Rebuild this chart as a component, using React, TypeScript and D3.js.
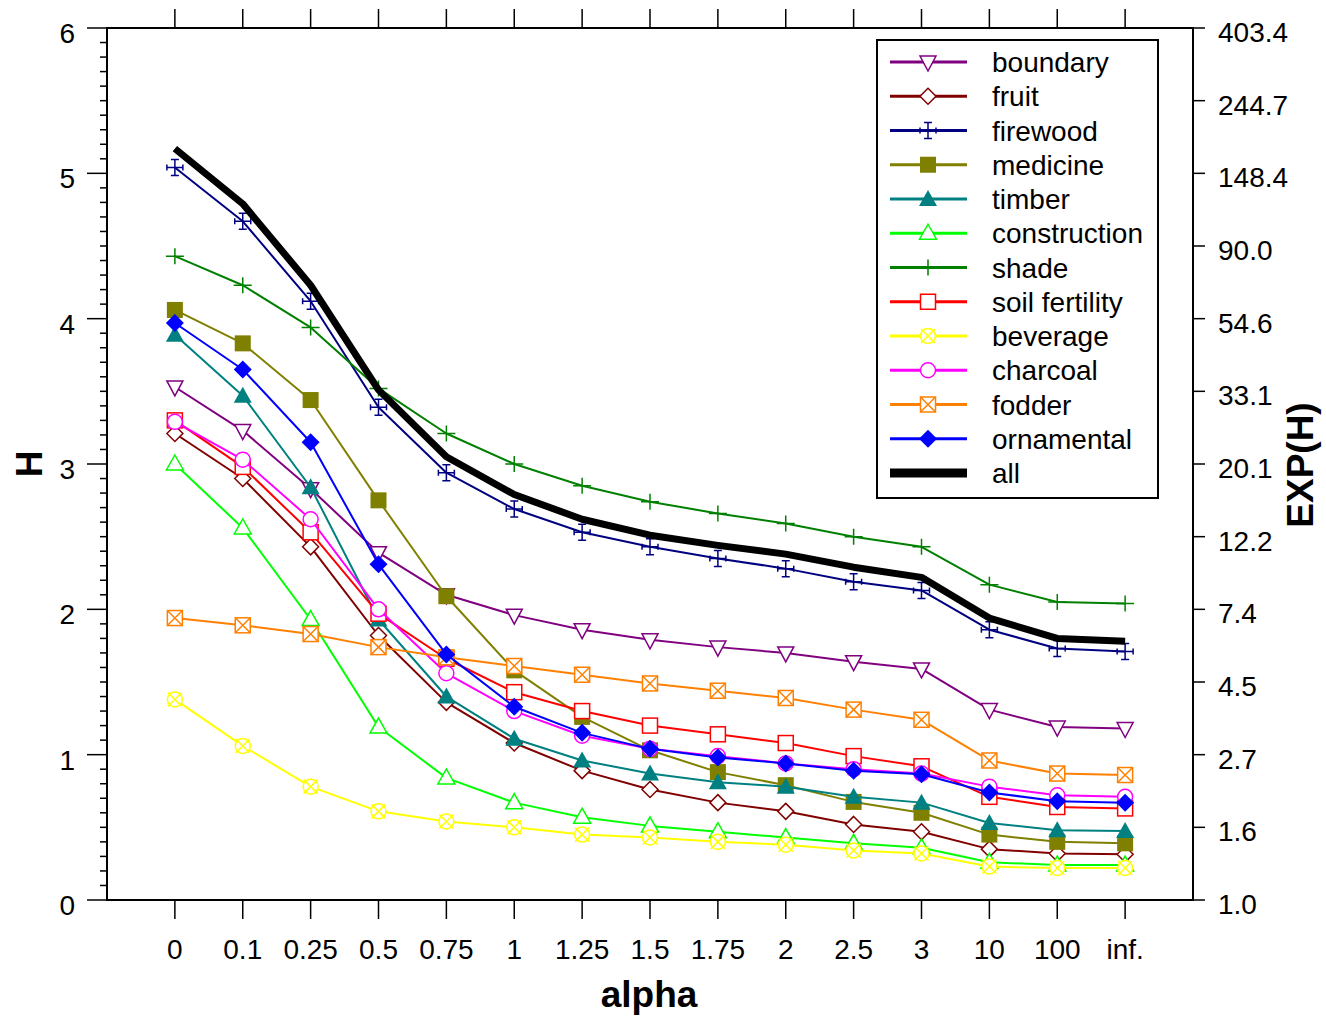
import React from "react";
import * as d3 from "d3";

const categories = ["0", "0.1", "0.25", "0.5", "0.75", "1", "1.25", "1.5", "1.75", "2", "2.5", "3", "10", "100", "inf."];

const boundary = [3.53, 3.23, 2.83, 2.39, 2.1, 1.96, 1.86, 1.79, 1.74, 1.7, 1.64, 1.59, 1.31, 1.19, 1.18];
const fruit = [3.21, 2.9, 2.43, 1.82, 1.36, 1.08, 0.89, 0.76, 0.67, 0.61, 0.52, 0.47, 0.35, 0.32, 0.315];
const firewood = [5.04, 4.67, 4.12, 3.39, 2.94, 2.69, 2.53, 2.43, 2.35, 2.28, 2.19, 2.13, 1.86, 1.73, 1.71];
const medicine = [4.06, 3.83, 3.44, 2.75, 2.09, 1.58, 1.26, 1.03, 0.88, 0.79, 0.675, 0.6, 0.45, 0.4, 0.39];
const timber = [3.89, 3.47, 2.84, 1.93, 1.4, 1.11, 0.96, 0.87, 0.81, 0.78, 0.71, 0.67, 0.53, 0.48, 0.475];
const construction = [3.0, 2.56, 1.93, 1.19, 0.84, 0.67, 0.57, 0.51, 0.47, 0.43, 0.39, 0.36, 0.26, 0.24, 0.24];
const shade = [4.43, 4.23, 3.94, 3.52, 3.21, 3.0, 2.85, 2.74, 2.66, 2.59, 2.5, 2.43, 2.17, 2.05, 2.04];
const soilFertility = [3.3, 2.98, 2.53, 1.97, 1.66, 1.43, 1.3, 1.2, 1.14, 1.08, 0.99, 0.92, 0.71, 0.64, 0.63];
const beverage = [1.38, 1.06, 0.78, 0.61, 0.54, 0.5, 0.45, 0.43, 0.4, 0.38, 0.34, 0.32, 0.23, 0.22, 0.22];
const charcoal = [3.29, 3.03, 2.62, 2.0, 1.56, 1.3, 1.13, 1.04, 0.99, 0.94, 0.9, 0.87, 0.78, 0.72, 0.71];
const fodder = [1.94, 1.89, 1.83, 1.74, 1.67, 1.61, 1.55, 1.49, 1.44, 1.39, 1.31, 1.24, 0.96, 0.87, 0.86];
const ornamental = [3.97, 3.65, 3.15, 2.31, 1.69, 1.33, 1.15, 1.04, 0.98, 0.94, 0.89, 0.865, 0.74, 0.68, 0.67];
const all = [5.17, 4.79, 4.23, 3.51, 3.05, 2.79, 2.62, 2.51, 2.44, 2.38, 2.29, 2.22, 1.94, 1.8, 1.78];

const leftTicks = [0, 1, 2, 3, 4, 5, 6];
const rightTicks = [0, 0.5, 1, 1.5, 2, 2.5, 3, 3.5, 4, 4.5, 5, 5.5, 6];

type MarkerKind = "triDownOpen" | "diamondOpen" | "errPlus" | "squareFilled" | "triUpFilled" | "triUpOpen" | "plus" | "squareOpen" | "circleX" | "circleOpen" | "squareX" | "diamondFilled" | "none";

const series: { name: string; values: number[]; color: string; marker: MarkerKind; width: number }[] = [
  { name: "boundary", values: boundary, color: "#800080", marker: "triDownOpen", width: 2 },
  { name: "fruit", values: fruit, color: "#800000", marker: "diamondOpen", width: 2 },
  { name: "firewood", values: firewood, color: "#000080", marker: "errPlus", width: 2 },
  { name: "medicine", values: medicine, color: "#808000", marker: "squareFilled", width: 2 },
  { name: "timber", values: timber, color: "#008080", marker: "triUpFilled", width: 2 },
  { name: "construction", values: construction, color: "#00FF00", marker: "triUpOpen", width: 2 },
  { name: "shade", values: shade, color: "#008000", marker: "plus", width: 2 },
  { name: "soil fertility", values: soilFertility, color: "#FF0000", marker: "squareOpen", width: 2 },
  { name: "beverage", values: beverage, color: "#FFFF00", marker: "circleX", width: 2 },
  { name: "charcoal", values: charcoal, color: "#FF00FF", marker: "circleOpen", width: 2 },
  { name: "fodder", values: fodder, color: "#FF8000", marker: "squareX", width: 2 },
  { name: "ornamental", values: ornamental, color: "#0000FF", marker: "diamondFilled", width: 2 },
  { name: "all", values: all, color: "#000000", marker: "none", width: 7 },
];

const W = 1326, H = 1023;
const L = 107, R = 1193, T = 28, B = 900;
const FONT = "'Liberation Sans', Arial, Helvetica, sans-serif";

function Marker({ kind, color, x, y }: { kind: MarkerKind; color: string; x: number; y: number }) {
  const t = `translate(${x},${y})`;
  const sw = 1.5;
  switch (kind) {
    case "triDownOpen":
      return <polygon transform={t} points="-8,-6 8,-6 0,9" fill="white" stroke={color} strokeWidth={sw} />;
    case "diamondOpen":
      return <polygon transform={t} points="0,-8 8,0 0,8 -8,0" fill="white" stroke={color} strokeWidth={sw} />;
    case "errPlus":
      return <path transform={t} d="M-8,0H8M0,-8V8M-4,-8H4M-4,8H4M-8,-3V3M8,-3V3" fill="none" stroke={color} strokeWidth={sw} />;
    case "squareFilled":
      return <rect transform={t} x={-8} y={-8} width={16} height={16} fill={color} />;
    case "triUpFilled":
      return <polygon transform={t} points="0,-9 9,7 -9,7" fill={color} />;
    case "triUpOpen":
      return <polygon transform={t} points="0,-9 8.5,6 -8.5,6" fill="white" stroke={color} strokeWidth={sw} />;
    case "plus":
      return <path transform={t} d="M-9,0H9M0,-8V8" fill="none" stroke={color} strokeWidth={sw} />;
    case "squareOpen":
      return <rect transform={t} x={-7.5} y={-7.5} width={15} height={15} fill="white" stroke={color} strokeWidth={sw} />;
    case "circleX":
      return (
        <g transform={t}>
          <circle r={7.5} fill="white" stroke={color} strokeWidth={sw} />
          <path d="M-7,-7L7,7M-7,7L7,-7" stroke={color} strokeWidth={sw} />
        </g>
      );
    case "circleOpen":
      return <circle transform={t} r={7.5} fill="white" stroke={color} strokeWidth={sw} />;
    case "squareX":
      return (
        <g transform={t}>
          <rect x={-7.5} y={-7.5} width={15} height={15} fill="white" stroke={color} strokeWidth={sw} />
          <path d="M-7.5,-7.5L7.5,7.5M-7.5,7.5L7.5,-7.5" stroke={color} strokeWidth={sw} />
        </g>
      );
    case "diamondFilled":
      return <polygon transform={t} points="0,-9 9,0 0,9 -9,0" fill={color} />;
    default:
      return null;
  }
}

export default function App() {
  const x = d3.scalePoint<string>().domain(categories).range([L, R]).padding(1);
  const y = d3.scaleLinear().domain([0, 6]).range([B, T]);
  const line = d3
    .line<number>()
    .x((_, i) => x(categories[i]) as number)
    .y((v) => y(v));
  const minor = d3.range(0, 60).map((i) => i / 10).filter((v) => Math.abs(v - Math.round(v)) > 1e-6);

  const legX = 877, legY = 40, legW = 281, legH = 458;
  const rowY0 = 62, rowStep = 34.25;

  return (
    <svg width={W} height={H} style={{ position: "absolute", left: 0, top: 0, background: "white" }} fontFamily={FONT}>
      <rect x={0} y={0} width={W} height={H} fill="white" />
      {/* frame */}
      <rect x={L} y={T} width={R - L} height={B - T} fill="none" stroke="#000" strokeWidth={2} />
      {/* left ticks */}
      {leftTicks.map((v) => (
        <g key={"l" + v}>
          <line x1={87} x2={L} y1={y(v)} y2={y(v)} stroke="#000" strokeWidth={1.5} />
          <text x={75} y={y(v) + 15} fontSize={28} textAnchor="end">{v}</text>
        </g>
      ))}
      {minor.map((v) => (
        <line key={"m" + v} x1={100} x2={L} y1={y(v)} y2={y(v)} stroke="#000" strokeWidth={1.5} />
      ))}
      {/* right ticks */}
      {rightTicks.map((v) => (
        <g key={"r" + v}>
          <line x1={R} x2={1205} y1={y(v)} y2={y(v)} stroke="#000" strokeWidth={1.5} />
          <text x={1218} y={y(v) + 14} fontSize={28} textAnchor="start">{Math.exp(v).toFixed(1)}</text>
        </g>
      ))}
      {/* top and bottom ticks */}
      {categories.map((c) => (
        <g key={"c" + c}>
          <line x1={x(c)} x2={x(c)} y1={T} y2={9} stroke="#000" strokeWidth={1.5} />
          <line x1={x(c)} x2={x(c)} y1={B} y2={919} stroke="#000" strokeWidth={1.5} />
          <text x={x(c)} y={959} fontSize={28} textAnchor="middle">{c}</text>
        </g>
      ))}
      {/* axis titles */}
      <text x={649} y={1007} fontSize={37} fontWeight="bold" textAnchor="middle">alpha</text>
      <text transform="translate(42,464) rotate(-90)" fontSize={37} fontWeight="bold" textAnchor="middle">H</text>
      <text transform="translate(1313,465) rotate(-90)" fontSize={37} fontWeight="bold" textAnchor="middle">EXP(H)</text>
      {/* series */}
      {series.map((s) => (
        <g key={s.name}>
          <path d={line(s.values) || ""} fill="none" stroke={s.color} strokeWidth={s.width} strokeLinejoin="round" />
          {s.values.map((v, i) => (
            <Marker key={i} kind={s.marker} color={s.color} x={x(categories[i]) as number} y={y(v)} />
          ))}
        </g>
      ))}
      {/* legend */}
      <rect x={legX} y={legY} width={legW} height={legH} fill="white" stroke="#000" strokeWidth={2} />
      {series.map((s, i) => {
        const ry = rowY0 + i * rowStep;
        return (
          <g key={"lg" + s.name}>
            <line x1={890} x2={967} y1={ry} y2={ry} stroke={s.color} strokeWidth={s.marker === "none" ? 9 : 3} />
            <Marker kind={s.marker} color={s.color} x={928} y={ry} />
            <text x={992} y={ry + 10} fontSize={28}>{s.name}</text>
          </g>
        );
      })}
    </svg>
  );
}
